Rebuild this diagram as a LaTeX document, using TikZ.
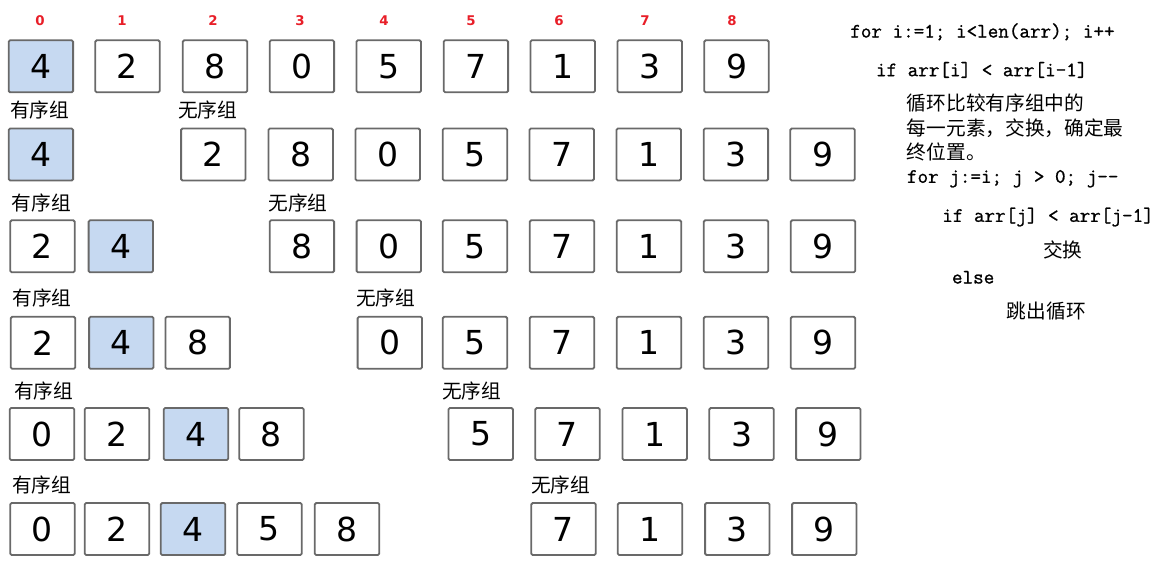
\documentclass[tikz,border=0pt]{standalone}
\usepackage{fontspec}
\newfontfamily\cjk{Noto Sans CJK SC}
\newfontfamily\digitfont{DejaVu Sans}
\newfontfamily\idxfont{DejaVu Sans}
\newfontfamily\codefont[FakeBold=1]{Latin Modern Mono}
\definecolor{boxgray}{RGB}{105,105,105}
\definecolor{boxblue}{RGB}{198,217,241}
\definecolor{idxred}{RGB}{232,30,40}

\begin{document}
\begin{tikzpicture}[x=0.025cm, y=0.025cm]
        \tikzstyle{every node}+=[inner sep=0pt]
        \tikzstyle{cell}=[draw=boxgray, line width=1.3pt, rounded corners=1pt, minimum width=1.61cm, minimum height=1.3cm, font=\digitfont\fontsize{23.5}{23.5}\selectfont]
        \tikzstyle{hot}=[cell, fill=boxblue]
        \tikzstyle{idx}=[text=idxred, font=\idxfont\bfseries\fontsize{9.5}{9.5}\selectfont]
        \tikzstyle{group}=[anchor=west, text height=0.88em, text depth=0.12em, font=\cjk\fontsize{14}{14}\selectfont]
        \tikzstyle{code}=[anchor=west, text height=0.7em, text depth=0.2em, font=\codefont\fontsize{14.6}{14.6}\selectfont]
        \useasboundingbox (0,0) rectangle (1161,-574);
        % index row
        \node[idx] (i0) at (40,-21) {0};
        \node[idx] (i1) at (122,-21) {1};
        \node[idx] (i2) at (213,-21) {2};
        \node[idx] (i3) at (300,-21) {3};
        \node[idx] (i4) at (384,-21) {4};
        \node[idx] (i5) at (471,-21) {5};
        \node[idx] (i6) at (559,-21) {6};
        \node[idx] (i7) at (645,-21) {7};
        \node[idx] (i8) at (732,-21) {8};
        % row 1
        \node[hot] (b10) at (40.9,-66.3) {4};
        \node[cell] (b11) at (127.5,-66.3) {2};
        \node[cell] (b12) at (215,-66.3) {8};
        \node[cell] (b13) at (301.9,-66.3) {0};
        \node[cell] (b14) at (388.7,-66.3) {5};
        \node[cell] (b15) at (475.9,-66.3) {7};
        \node[cell] (b16) at (562.7,-66.3) {1};
        \node[cell] (b17) at (649.7,-66.3) {3};
        \node[cell] (b18) at (736.5,-66.3) {9};
        % row 2
        \node[group] (sorted2) at (10,-111.7) {有序组};
        \node[group] (unsorted2) at (178,-111.7) {无序组};
        \node[hot] (b20) at (40.9,-154.5) {4};
        \node[cell] (b21) at (213.3,-154.5) {2};
        \node[cell] (b22) at (300.7,-154.5) {8};
        \node[cell] (b23) at (387.7,-154.5) {0};
        \node[cell] (b24) at (475,-154.5) {5};
        \node[cell] (b25) at (561.7,-154.5) {7};
        \node[cell] (b26) at (648.7,-154.5) {1};
        \node[cell] (b27) at (735.9,-154.5) {3};
        \node[cell] (b28) at (822.5,-154.5) {9};
        % row 3
        \node[group] (sorted3) at (11.7,-205) {有序组};
        \node[group] (unsorted3) at (268.3,-205) {无序组};
        \node[cell] (b30) at (42.5,-246.3) {2};
        \node[hot] (b31) at (120.8,-246.3) {4};
        \node[cell] (b32) at (301.9,-246.3) {8};
        \node[cell] (b33) at (388.8,-246.3) {0};
        \node[cell] (b34) at (475,-246.3) {5};
        \node[cell] (b35) at (562,-246.3) {7};
        \node[cell] (b36) at (649,-246.3) {1};
        \node[cell] (b37) at (736,-246.3) {3};
        \node[cell] (b38) at (823,-246.3) {9};
        % row 4
        \node[group] (sorted4) at (12.3,-300) {有序组};
        \node[group] (unsorted4) at (356,-300) {无序组};
        \node[cell] (b40) at (43,-342.8) {2};
        \node[hot] (b41) at (121.3,-342.8) {4};
        \node[cell] (b42) at (197.7,-342.8) {8};
        \node[cell] (b43) at (389.8,-342.8) {0};
        \node[cell] (b44) at (475,-342.8) {5};
        \node[cell] (b45) at (562,-342.8) {7};
        \node[cell] (b46) at (649,-342.8) {1};
        \node[cell] (b47) at (736,-342.8) {3};
        \node[cell] (b48) at (823,-342.8) {9};
        % row 5
        \node[group] (sorted5) at (14,-393) {有序组};
        \node[group] (unsorted5) at (442,-393) {无序组};
        \node[cell] (b50) at (42,-434) {0};
        \node[cell] (b51) at (117,-434) {2};
        \node[hot] (b52) at (196,-434) {4};
        \node[cell] (b53) at (271.5,-434) {8};
        \node[cell] (b54) at (480.7,-434) {5};
        \node[cell] (b55) at (567.5,-434) {7};
        \node[cell] (b56) at (654.7,-434) {1};
        \node[cell] (b57) at (741.5,-434) {3};
        \node[cell] (b58) at (828.3,-434) {9};
        % row 6
        \node[group] (sorted6) at (12,-487) {有序组};
        \node[group] (unsorted6) at (531,-487) {无序组};
        \node[cell] (b60) at (42.5,-529) {0};
        \node[cell] (b61) at (117,-529) {2};
        \node[hot] (b62) at (193,-529) {4};
        \node[cell] (b63) at (269.5,-529) {5};
        \node[cell] (b64) at (347,-529) {8};
        \node[cell] (b65) at (563.5,-529) {7};
        \node[cell] (b66) at (650,-529) {1};
        \node[cell] (b67) at (737.3,-529) {3};
        \node[cell] (b68) at (824.3,-529) {9};
        % pseudo code
        \node[code] (code1) at (850,-34) {for i:=1; i<len(arr); i++};
        \node[code] (code2) at (875.7,-72.7) {if arr[i] < arr[i-1]};
        \node[group] (code3) at (906.7,-105) {循环比较有序组中的};
        \node[group] (code4) at (906.7,-130) {每一元素，交换，确定最};
        \node[group] (code5) at (906.7,-154) {终位置。};
        \node[code] (code6) at (906.7,-179.3) {for j:=i; j > 0; j--};
        \node[code] (code7) at (942,-218.3) {if arr[j] < arr[j-1]};
        \node[group] (code8) at (1043,-251.7) {交换};
        \node[code] (code9) at (951.7,-280) {else};
        \node[group] (code10) at (1006.7,-313.3) {跳出循环};
\end{tikzpicture}
\end{document}
